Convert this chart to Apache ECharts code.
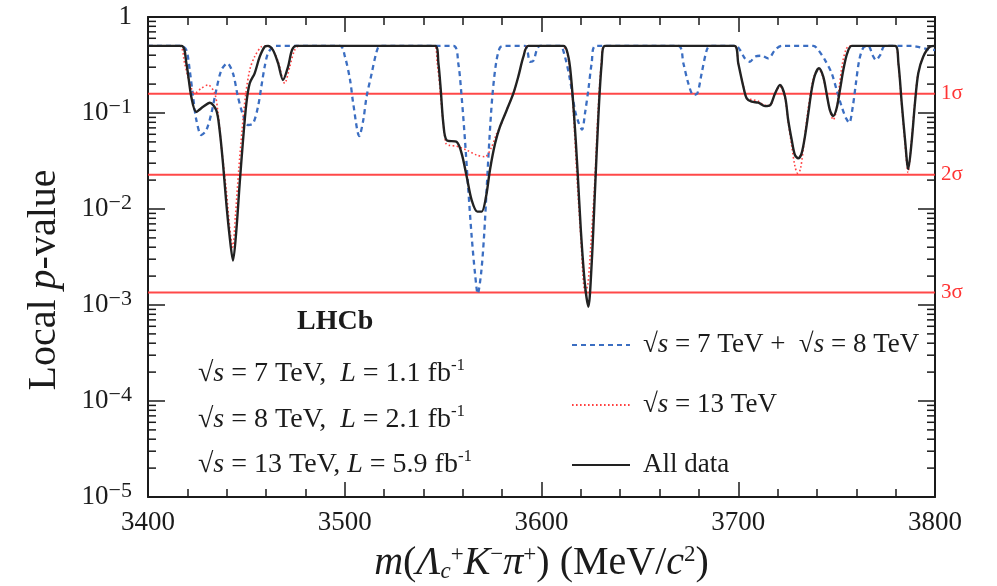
<!DOCTYPE html>
<html>
<head>
<meta charset="utf-8">
<script src="https://cdn.jsdelivr.net/npm/echarts@6/dist/echarts.min.js"></script>
<style>
html,body{margin:0;padding:0;background:#fff}
#chart{width:997px;height:586px}
</style>
</head>
<body>
<div id="chart"></div>
<script>
// Local p-value scans versus m(Λc+ K− π+) in MeV/c^2

// sqrt(s) = 7 TeV + 8 TeV
const runOneMass = [3400,3417,3419.5,3421.2,3422.9,3424.6,3427.1,3429.6,3432.2,3434.7,3437.3,3440.3,3443.2,3445.7,3448.3,3450.8,3453.4,3455.9,3457.6,3459.3,3461,3463.5,3465,
  3497.6,3500.1,3502.7,3504.3,3507.4,3509.4,3511.1,3513.7,3516.2,3518,
  3555.2,3557.7,3559.4,3561.1,3562.8,3564.5,3566.2,3567.6,3569.3,3570.8,3572.1,3573.5,3575,3576.9,3578.9,3581.4,
  3591.6,3594.2,3595.9,3597.6,3599.2,
  3609.4,3611.9,3614.5,3617,3618.7,3620.6,3622.1,3623.8,3625.5,3627.5,
  3669.5,3672.1,3674.6,3677.2,3679.2,3681.4,3684,3685.7,
  3699,3700.9,3703.4,3705.9,3708.5,3711.9,3715.3,3718.7,3722.1,
  3738.2,3740.7,3744.1,3747.5,3750,3752.6,3754.8,3756.4,3758.2,3759.8,3761.5,3763.6,3766.1,3768.3,3770,3772.1,3774.6,
  3788.2,3792.3,3796.6,3800];
const runOneP = [0.5,0.5,0.453,0.28,0.148,0.084,0.059,0.066,0.099,0.174,0.28,0.33,0.259,0.148,0.095,0.075,0.078,0.116,0.188,0.304,0.42,0.49,0.5,
  0.5,0.386,0.221,0.126,0.0575,0.084,0.148,0.259,0.435,0.5,
  0.5,0.33,0.148,0.0523,0.0158,0.0052,0.00214,0.00131,0.00214,0.0052,0.0158,0.0523,0.148,0.33,0.48,0.5,
  0.5,0.342,0.35,0.453,0.5,
  0.5,0.386,0.221,0.107,0.081,0.067,0.099,0.174,0.33,0.5,
  0.5,0.33,0.204,0.154,0.16,0.259,0.453,0.5,
  0.5,0.453,0.37,0.342,0.386,0.395,0.37,0.453,0.5,
  0.5,0.453,0.356,0.259,0.174,0.116,0.088,0.079,0.116,0.204,0.356,0.48,0.5,0.40,0.356,0.40,0.5,
  0.5,0.483,0.46,0.453];

// sqrt(s) = 13 TeV
const runTwoMass = [3400,3416,3418.6,3421.2,3423.7,3427.1,3430.5,3433.9,3435.6,3437.3,3439.8,3441.5,3443,3444.4,3446.1,3447.8,3449.5,3451.7,3454.2,3457.6,3460,3463,3466,3469.5,3472,3474.5,3477,
  3545.5,3547,3548.5,3550,3551.5,3553,3557,3562,3567,3571.3,3574.7,3577.2,3579,3582.3,3585.7,3588.2,3590.8,3593,
  3610.5,3613,3615,3616.5,3618,3620,3622.1,3623.5,3625,3627,3628.7,3630.5,3632,
  3698,3700,3702.6,3704.3,3706.8,3710.2,3713.6,3716.1,3718.7,3721.2,3723.8,3725.4,3727.2,3728.8,3730.2,3731.6,3733.2,3734.8,3736.5,3738.5,3740.7,3743,3744.9,3746.6,3748.3,3750,3751.5,3753,3754.8,3756.5,
  3779.5,3781.3,3783,3784.7,3786.3,3788,3789.7,3791.4,3794,3797.4,3800];
const runTwoP = [0.5,0.5,0.33,0.204,0.16,0.181,0.196,0.16,0.099,0.0445,0.0158,0.0065,0.004,0.0083,0.0255,0.066,0.148,0.28,0.386,0.49,0.5,0.47,0.35,0.204,0.3,0.45,0.5,
  0.5,0.33,0.174,0.08,0.048,0.046,0.045,0.041,0.0365,0.035,0.0445,0.061,0.072,0.107,0.16,0.239,0.386,0.5,
  0.5,0.42,0.22,0.08,0.022,0.005,0.0014,0.0016,0.004,0.018,0.1,0.35,0.5,
  0.5,0.33,0.19,0.142,0.138,0.133,0.12,0.12,0.16,0.19,0.14,0.08,0.045,0.028,0.0235,0.026,0.045,0.085,0.15,0.24,0.29,0.24,0.16,0.105,0.085,0.11,0.2,0.33,0.46,0.5,
  0.5,0.33,0.126,0.05,0.024,0.05,0.126,0.259,0.386,0.49,0.5];

// All data combined
const allMass = [3400,3417,3419.5,3422,3424.5,3428,3431.4,3434.7,3436.4,3438.1,3439.8,3441.5,3443.2,3444.9,3446.6,3448.3,3450,3451.7,3454.2,3456.8,3459.3,3461,3463.5,3466.1,3468.6,3471.2,3473.2,3475.4,
  3546,3547.6,3548.8,3550.1,3551.8,3556.9,3559.4,3562,3564.5,3567.4,3569.6,3571.8,3573.8,3576.4,3578.9,3582.3,3585.7,3588.2,3590.8,3593.3,
  3611.1,3612.8,3614.5,3616.5,3618.3,3620,3622,3623.8,3625.5,3627.2,3628.9,3630.6,3632.3,
  3698,3700,3702.6,3704.3,3706.8,3710.2,3713.6,3716.1,3718.7,3721.2,3723.8,3725.4,3727.2,3728.8,3730.5,3732.2,3733.9,3735.6,3737.3,3739,3741,3743.2,3744.9,3746.6,3748.3,3750,3751.7,3753.4,3755.4,3757.7,
  3779.7,3781.4,3783.1,3784.8,3786.4,3788.2,3789.8,3791.5,3794,3797.4,3800];
const allP = [0.5,0.5,0.33,0.148,0.103,0.116,0.128,0.107,0.0665,0.03,0.0115,0.00515,0.0029,0.006,0.0185,0.052,0.126,0.204,0.259,0.386,0.49,0.5,0.453,0.33,0.221,0.304,0.453,0.5,
  0.5,0.33,0.174,0.078,0.052,0.05,0.038,0.0217,0.0124,0.0094,0.0094,0.0134,0.0255,0.048,0.072,0.107,0.16,0.239,0.386,0.5,
  0.5,0.453,0.3,0.099,0.0255,0.006,0.0017,0.00096,0.0027,0.0158,0.0915,0.33,0.5,
  0.5,0.33,0.188,0.142,0.131,0.128,0.118,0.12,0.16,0.196,0.148,0.084,0.052,0.0365,0.0337,0.038,0.057,0.099,0.174,0.249,0.292,0.239,0.16,0.107,0.093,0.112,0.174,0.28,0.42,0.5,
  0.5,0.33,0.126,0.052,0.026,0.052,0.126,0.259,0.386,0.49,0.5];

// One-sided p-values for 1, 2 and 3 standard deviations
const sigmaP = [0.158655, 0.0227501, 0.0013499];
const sigmaLabels = ['1σ', '2σ', '3σ'];

// Axis ranges and tick steps
const massMin = 3400, massMax = 3800, massStep = 100;
const pMin = 1e-5, pMax = 1;

const serif = '"Liberation Serif", "DejaVu Serif", serif';
const ink = '#1b1b1b';
const sigmaRed = '#ff3434';

const pairs = (xs, ys) => xs.map((x, i) => [x, ys[i]]);

// Minor log ticks at 2..9 × each decade
const minorLogTicks = [];
for (let e = -5; e < 0; e++) {
  for (let k = 2; k <= 9; k++) minorLogTicks.push([massMin, k * Math.pow(10, e)]);
}

const noteSize = 28;
const noteRich = {
  i: { fontStyle: 'italic', fontFamily: serif, fontSize: noteSize, color: ink, lineHeight: 34 },
  sup: { fontFamily: serif, fontSize: 17, color: ink, verticalAlign: 'top', lineHeight: 18 }
};

const chart = echarts.init(document.getElementById('chart'), null, { renderer: 'canvas' });

const yTickLabel = v => {
  const e = Math.round(Math.log10(v));
  return e === 0 ? '1' : '10{sup|−' + (-e) + '}';
};

const commonX = {
  type: 'value', min: massMin, max: massMax, interval: massStep,
  axisLine: { show: true, onZero: false, lineStyle: { color: ink, width: 2 } },
  axisTick: { show: true, inside: true, length: 15, lineStyle: { color: ink, width: 1.5 } },
  minorTick: { show: true, splitNumber: 5, length: 8, lineStyle: { color: ink, width: 1.5 } },
  splitLine: { show: false }
};
const commonY = {
  type: 'log', logBase: 10, min: pMin, max: pMax,
  axisLine: { show: true, onZero: false, lineStyle: { color: ink, width: 2 } },
  axisTick: { show: true, inside: true, length: 17, lineStyle: { color: ink, width: 1.5 } },
  splitLine: { show: false }
};

// Horizontal significance lines, each drawn as a two-point series with its label at the end
const sigmaSeries = sigmaP.map((p, i) => ({
  type: 'line', name: 'sigma' + (i + 1), z: 1, silent: true,
  data: [[massMin, p], [massMax, p]],
  symbol: 'none', color: sigmaRed,
  lineStyle: { color: sigmaRed, width: 2, opacity: 0.9 },
  endLabel: {
    show: true, distance: 6, color: sigmaRed, fontFamily: serif, fontSize: 21,
    formatter: () => sigmaLabels[i]
  }
}));

const titleSize = 40;

const option = {
  backgroundColor: '#fff',
  animation: false,
  grid: { left: 148, right: 62, top: 17, bottom: 89, containLabel: false, outerBoundsMode: 'none' },
  xAxis: [
    Object.assign({}, commonX, {
      position: 'bottom',
      axisLabel: { show: true, margin: 12, fontFamily: serif, fontSize: 27, color: ink, formatter: v => String(v) },
      name: '{i|m}({i|Λ}{sub|c}{sup|+}{i|K}{sup|−}{i|π}{sup|+}) (MeV/{i|c}{sup|2})',
      nameLocation: 'middle', nameGap: 46,
      nameTextStyle: {
        fontFamily: serif, fontSize: titleSize, color: ink, lineHeight: 40,
        rich: {
          i: { fontStyle: 'italic', fontFamily: serif, fontSize: titleSize, color: ink, lineHeight: 40 },
          sup: { fontFamily: serif, fontSize: 23, color: ink, verticalAlign: 'top', lineHeight: 26 },
          sub: { fontFamily: serif, fontSize: 23, fontStyle: 'italic', color: ink, verticalAlign: 'bottom', lineHeight: 20 }
        }
      }
    }),
    Object.assign({}, commonX, { position: 'top', axisLabel: { show: false } })
  ],
  yAxis: [
    Object.assign({}, commonY, {
      position: 'left',
      axisLabel: {
        show: true, margin: 16, fontFamily: serif, fontSize: 27, color: ink, lineHeight: 34,
        formatter: yTickLabel,
        rich: { sup: { fontFamily: serif, fontSize: 22, color: ink, verticalAlign: 'top', lineHeight: 22 } }
      }
    }),
    Object.assign({}, commonY, { position: 'right', axisLabel: { show: false } })
  ],
  legend: {
    data: ['run1', 'run2', 'all'],
    orient: 'vertical', left: 566, top: 325,
    itemWidth: 58, itemHeight: 14, itemGap: 30,
    itemStyle: { opacity: 0, borderWidth: 0 },
    formatter: name => ({
      run1: '√{i|s} = 7 TeV +  √{i|s} = 8 TeV',
      run2: '√{i|s} = 13 TeV',
      all: 'All data'
    })[name],
    textStyle: {
      fontFamily: serif, fontSize: 27, color: ink, padding: [0, 0, 0, 8], lineHeight: 30,
      rich: { i: { fontStyle: 'italic', fontFamily: serif, fontSize: 27, color: ink, lineHeight: 30 } }
    }
  },
  graphic: [
    { type: 'text', x: 44, y: 280, rotation: Math.PI / 2, style: {
      text: 'Local {i|p}-value', font: titleSize + 'px ' + serif, fill: ink, align: 'center', verticalAlign: 'middle',
      rich: { i: { fontStyle: 'italic', fontFamily: serif, fontSize: titleSize, color: ink } } } },
    { type: 'text', left: 297, top: 308, style: { text: 'LHCb', font: 'bold 28px ' + serif, fill: ink } },
    { type: 'text', left: 198, top: 357, style: {
      text: '√{i|s} = 7 TeV,  {i|L} = 1.1 fb{sup|-1}', font: noteSize + 'px ' + serif, fill: ink, lineHeight: 34, rich: noteRich } },
    { type: 'text', left: 198, top: 403, style: {
      text: '√{i|s} = 8 TeV,  {i|L} = 2.1 fb{sup|-1}', font: noteSize + 'px ' + serif, fill: ink, lineHeight: 34, rich: noteRich } },
    { type: 'text', left: 198, top: 448, style: {
      text: '√{i|s} = 13 TeV, {i|L} = 5.9 fb{sup|-1}', font: noteSize + 'px ' + serif, fill: ink, lineHeight: 34, rich: noteRich } }
  ],
  series: sigmaSeries.concat([
    {
      type: 'custom', name: 'minorTicks', silent: true, clip: false, z: 4,
      data: minorLogTicks,
      renderItem: (params, api) => {
        const v = api.value(1);
        const l = api.coord([massMin, v]);
        const r = api.coord([massMax, v]);
        const st = { stroke: ink, lineWidth: 1.5 };
        return {
          type: 'group', children: [
            { type: 'line', shape: { x1: l[0], y1: l[1], x2: l[0] + 8, y2: l[1] }, style: st },
            { type: 'line', shape: { x1: r[0], y1: r[1], x2: r[0] - 8, y2: r[1] }, style: st }
          ]
        };
      }
    },
    {
      type: 'line', name: 'run1', data: pairs(runOneMass, runOneP), z: 3,
      symbol: 'none', smooth: 0.3, color: '#3b6ec2',
      lineStyle: { color: '#3b6ec2', width: 2.3, type: [5, 4] }
    },
    {
      type: 'line', name: 'run2', data: pairs(runTwoMass, runTwoP), z: 3,
      symbol: 'none', smooth: 0.3, color: '#ff4040',
      lineStyle: { color: '#ff4040', width: 1.6, type: [1.6, 2.4] }
    },
    {
      type: 'line', name: 'all', data: pairs(allMass, allP), z: 4,
      symbol: 'none', smooth: 0.3, color: '#222',
      lineStyle: { color: '#222', width: 2.4, type: 'solid' }
    }
  ])
};

chart.setOption(option);
</script>
</body>
</html>
